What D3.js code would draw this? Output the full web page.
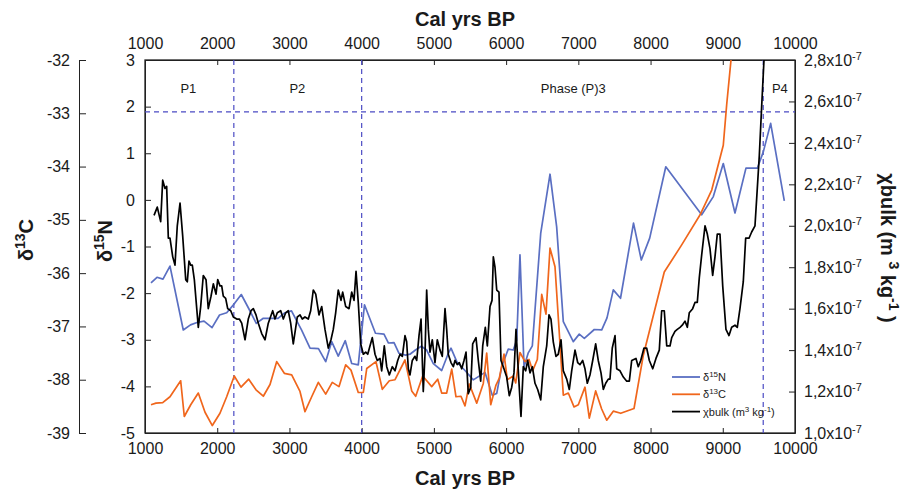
<!DOCTYPE html>
<html>
<head>
<meta charset="utf-8">
<script src="https://cdn.jsdelivr.net/npm/d3@7"></script>
<style>
body { margin: 0; background: #fff; }
text { font-family: "Liberation Sans", Arial, sans-serif; fill: #1a1a1a; }
</style>
</head>
<body>
<div id="chart"></div>
<script>
var width = 909;
var height = 490;
var plotLeft = 145, plotRight = 795, plotTop = 60, plotBottom = 433;

// ---- data ----
var yearTicks = [1000, 2000, 3000, 4000, 5000, 6000, 7000, 8000, 9000, 10000];
var n15Ticks = [-5, -4, -3, -2, -1, 0, 1, 2, 3];
var c13Ticks = [-39, -38, -37, -36, -35, -34, -33, -32];
var chiTicks = [1.0, 1.2, 1.4, 1.6, 1.8, 2.0, 2.2, 2.4, 2.6, 2.8];

var phaseBounds = [2230, 4000, 9560];
var chiThreshold = 2.55;
var phaseNames = ["P1", "P2", "Phase (P)3", "P4"];
var phaseYears = [1600, 3110, 6930, 9790];

var n15Years = [1083,1166,1249,1346,1530,1630,1720,1817,1928,2032,2131,2236,2333,2436,2541,2638,2745,2842,2938,3028,
  3167,3285,3402,3502,3585,3676,3773,3862,3953,4039,4191,4309,4371,4448,4517,4607,4669,4745,4826,4900,
  4992,5108,5200,5237,5320,5431,5546,5708,5809,5870,5939,6030,6099,6147,6192,6248,6307,6363,6479,6608,
  6700,6792,6930,7013,7083,7221,7324,7397,7484,7584,7764,7872,7988,8211,8708,8869,9007,9169,9321,9478,
  9561,9663,9852];
var n15Values = [-1.78,-1.66,-1.70,-1.42,-2.79,-2.68,-2.63,-2.60,-2.74,-2.47,-2.42,-2.23,-2.03,-2.33,-2.65,-2.54,-2.54,-2.54,-2.42,-2.38,
  -2.79,-3.18,-3.19,-3.47,-3.04,-3.35,-3.02,-3.51,-3.54,-2.25,-2.86,-2.88,-3.07,-3.06,-3.29,-3.33,-3.31,-3.22,-3.14,-3.22,
  -3.51,-3.66,-3.29,-3.18,-3.48,-3.66,-3.86,-3.70,-4.19,-4.15,-3.58,-3.20,-3.22,-3.01,-1.18,-3.58,-3.28,-3.13,-0.72,0.55,
  -0.58,-2.61,-3.04,-2.88,-2.97,-2.78,-2.79,-2.53,-1.93,-2.11,-0.50,-1.29,-0.82,0.71,-0.32,0.07,0.78,-0.28,0.68,0.68,
  1.03,1.64,-0.02];

var c13Years = [1083,1152,1245,1346,1494,1544,1633,1738,1831,1932,2038,2131,2236,2329,2436,2537,2638,2731,2824,2929,
  3031,3146,3215,3308,3400,3502,3593,3686,3779,3852,3953,4023,4070,4198,4286,4383,4462,4600,4693,4748,
  4845,4970,5053,5108,5177,5247,5306,5375,5431,5490,5593,5684,5731,5787,5860,5906,5971,6017,6100,6133,
  6192,6262,6317,6368,6432,6493,6552,6608,6677,6792,6861,6940,7000,7092,7152,7240,7323,7393,7484,7587,
  7771,7900,8190,8431,8684,8847,9007,9054,9141];
var c13Values = [-38.47,-38.44,-38.43,-38.32,-38.02,-38.69,-38.47,-38.25,-38.61,-38.86,-38.63,-38.32,-37.93,-38.14,-37.99,-38.19,-38.31,-38.09,-37.66,-37.88,
  -37.91,-38.22,-38.60,-38.32,-38.05,-38.27,-38.05,-38.13,-37.72,-37.82,-38.24,-38.24,-37.79,-37.66,-38.18,-38.02,-38.00,-37.63,-38.21,-38.31,
  -37.93,-38.13,-37.99,-38.25,-38.25,-37.80,-38.32,-38.31,-38.49,-38.08,-38.44,-38.07,-37.50,-38.47,-38.10,-37.97,-37.52,-38.00,-37.93,-38.06,
  -37.49,-37.66,-37.62,-37.83,-37.62,-36.40,-36.77,-35.53,-35.88,-38.29,-38.25,-38.51,-38.47,-38.14,-38.72,-38.21,-38.55,-38.76,-38.59,-38.63,
  -38.54,-37.54,-35.98,-35.47,-34.91,-34.44,-33.60,-32.84,-31.62];

// chi bulk in units of 1e-7 m3 kg-1
var chiYears = [1125,1170,1217,1245,1277,1300,1323,1346,1384,1415,1447,1485,1522,1564,1586,1609,1633,1655,1683,1738,
  1771,1807,1845,1876,1914,1946,1983,2007,2038,2062,2084,2117,2145,2187,2223,2270,2306,2339,2385,2430,
  2468,2500,2537,2569,2616,2662,2707,2768,2800,2832,2879,2915,2948,2984,3017,3053,3109,3146,3178,3215,
  3261,3294,3330,3364,3409,3447,3492,3538,3575,3607,3640,3676,3714,3737,3779,3825,3862,3894,3922,3953,
  3987,4023,4056,4084,4115,4147,4185,4216,4254,4277,4313,4347,4383,4424,4462,4499,4531,4563,4600,4623,
  4646,4669,4701,4738,4762,4794,4822,4853,4877,4900,4923,4946,4978,5015,5047,5085,5116,5154,5177,5199,
  5237,5269,5292,5324,5352,5385,5417,5445,5476,5510,5537,5583,5615,5648,5676,5712,5740,5777,5805,5823,
  5846,5870,5901,5929,5961,6008,6044,6077,6109,6137,6169,6192,6206,6238,6271,6299,6331,6363,6400,6437,
  6479,6515,6562,6594,6621,6653,6690,6722,6760,6792,6839,6875,6908,6954,6991,7023,7060,7092,7124,7161,
  7199,7240,7276,7314,7346,7379,7415,7438,7470,7508,7531,7577,7623,7670,7706,7739,7798,7830,7864,7909,
  7946,7983,8030,8075,8121,8154,8190,8224,8269,8293,8338,8370,8408,8439,8477,8509,8536,8583,8615,8647,
  8675,8708,8754,8786,8823,8860,8892,8924,8961,8999,9044,9086,9123,9169,9201,9238,9284,9317,9363,9400,
  9446,9469,9506,9539,9585];
var chiValues = [2.05,2.09,2.02,2.22,2.18,2.19,1.94,1.94,1.85,1.81,2.00,2.11,1.95,1.74,1.73,1.83,1.81,1.81,1.74,1.51,
  1.61,1.76,1.74,1.60,1.66,1.72,1.67,1.74,1.71,1.71,1.66,1.65,1.60,1.59,1.56,1.55,1.55,1.53,1.45,1.55,
  1.59,1.60,1.57,1.53,1.48,1.45,1.53,1.59,1.55,1.58,1.59,1.55,1.58,1.59,1.53,1.43,1.56,1.57,1.55,1.56,
  1.55,1.59,1.69,1.67,1.57,1.61,1.50,1.41,1.45,1.50,1.58,1.69,1.64,1.68,1.61,1.60,1.68,1.64,1.78,1.63,
  1.43,1.38,1.39,1.38,1.42,1.46,1.38,1.35,1.36,1.30,1.42,1.32,1.28,1.32,1.30,1.35,1.38,1.37,1.47,1.44,
  1.31,1.28,1.35,1.37,1.35,1.47,1.55,1.20,1.38,1.69,1.50,1.39,1.45,1.34,1.45,1.40,1.37,1.60,1.50,1.38,
  1.34,1.32,1.35,1.33,1.34,1.31,1.35,1.39,1.19,1.22,1.43,1.46,1.35,1.25,1.42,1.51,1.42,1.61,1.64,1.85,
  1.80,1.69,1.68,1.35,1.32,1.27,1.18,1.22,1.29,1.50,1.30,1.16,1.08,1.32,1.30,1.35,1.29,1.32,1.24,1.21,
  1.16,1.32,1.42,1.57,1.55,1.44,1.37,1.38,1.45,1.30,1.26,1.21,1.30,1.40,1.34,1.33,1.35,1.31,1.24,1.28,
  1.35,1.43,1.35,1.29,1.21,1.24,1.26,1.26,1.41,1.47,1.31,1.30,1.27,1.25,1.25,1.35,1.36,1.32,1.35,1.41,
  1.41,1.35,1.31,1.36,1.40,1.59,1.59,1.42,1.42,1.46,1.49,1.50,1.51,1.52,1.54,1.51,1.58,1.60,1.63,1.63,
  1.75,1.86,2.00,1.96,1.89,1.76,1.85,1.96,1.96,1.71,1.50,1.47,1.51,1.52,1.51,1.60,1.73,1.94,1.94,1.97,
  2.00,2.13,2.34,2.58,2.90];

var blue = "#5a6fc2", orange = "#f0661c", dash = "#4b4bc4";

// ---- scales ----
var x = d3.scaleLinear().domain([1000, 10000]).range([plotLeft, plotRight]);
var yN = d3.scaleLinear().domain([-5, 3]).range([plotBottom, plotTop]);
var yC = d3.scaleLinear().domain([-39, -32]).range([plotBottom, plotTop]);
var yChi = d3.scaleLinear().domain([1.0, 2.8]).range([plotBottom, plotTop]);

// plain hyphen for negatives, like the original figure
var plain = function(d) { return String(d); };

var svg = d3.select("#chart").append("svg")
  .attr("width", width)
  .attr("height", height);

svg.append("clipPath").attr("id", "plot")
  .append("rect")
  .attr("x", plotLeft).attr("y", plotTop)
  .attr("width", plotRight - plotLeft).attr("height", plotBottom - plotTop);

function styleAxis(g) {
  g.selectAll("text").attr("font-size", 16).attr("fill", "#1a1a1a");
  g.selectAll("line").attr("stroke", "#222");
  g.select(".domain").attr("stroke", "#222");
}

// top / bottom year axes
svg.append("g").attr("transform", "translate(0," + plotTop + ")")
  .call(d3.axisTop(x).tickValues(yearTicks).tickFormat(plain).tickSize(-5).tickSizeOuter(0).tickPadding(11))
  .call(styleAxis);
svg.append("g").attr("transform", "translate(0," + plotBottom + ")")
  .call(d3.axisBottom(x).tickValues(yearTicks).tickFormat(plain).tickSize(-5).tickSizeOuter(0).tickPadding(10))
  .call(styleAxis);

// d15N axis
svg.append("g").attr("transform", "translate(" + plotLeft + ",0)")
  .call(d3.axisLeft(yN).tickValues(n15Ticks).tickFormat(plain).tickSize(-6).tickSizeOuter(0).tickPadding(10))
  .call(styleAxis);

// d13C axis, offset to the left
svg.append("g").attr("transform", "translate(79,0)")
  .call(d3.axisLeft(yC).tickValues(c13Ticks).tickFormat(plain).tickSize(-7).tickSizeOuter(-7).tickPadding(9))
  .call(styleAxis);

// chi axis on the right
var chiAxis = svg.append("g").attr("transform", "translate(" + plotRight + ",0)")
  .call(d3.axisRight(yChi).tickValues(chiTicks).tickSize(-6).tickSizeOuter(0).tickPadding(9))
  .call(styleAxis);
chiAxis.selectAll(".tick text").each(function(d) {
  var t = d3.select(this).text(null);
  t.append("tspan").text(d3.format(".1f")(d).replace(".", ",") + "x10");
  t.append("tspan").attr("dy", -6).attr("font-size", 11).text("-7");
});

// frame
svg.append("rect")
  .attr("x", plotLeft).attr("y", plotTop)
  .attr("width", plotRight - plotLeft).attr("height", plotBottom - plotTop)
  .attr("fill", "none").attr("stroke", "#222").attr("stroke-width", 1.3);

// phase boundaries
svg.selectAll(".bound").data(phaseBounds).enter().append("line")
  .attr("x1", function(d) { return x(d); }).attr("x2", function(d) { return x(d); })
  .attr("y1", plotTop).attr("y2", plotBottom)
  .attr("stroke", dash).attr("stroke-width", 1.2).attr("stroke-dasharray", "5,4");
svg.append("line")
  .attr("x1", plotLeft).attr("x2", plotRight)
  .attr("y1", yChi(chiThreshold)).attr("y2", yChi(chiThreshold))
  .attr("stroke", dash).attr("stroke-width", 1.2).attr("stroke-dasharray", "5,4");

svg.selectAll(".phase").data(phaseNames).enter().append("text")
  .attr("x", function(d, i) { return x(phaseYears[i]); })
  .attr("y", 93)
  .attr("text-anchor", "middle")
  .attr("font-size", 13)
  .attr("fill", "#333")
  .text(function(d) { return d; });

// series
var plot = svg.append("g").attr("clip-path", "url(#plot)");

function draw(years, values, yScale, color) {
  var pts = years.map(function(yr, i) { return [yr, values[i]]; });
  plot.append("path")
    .datum(pts)
    .attr("fill", "none")
    .attr("stroke", color)
    .attr("stroke-width", 1.7)
    .attr("stroke-linejoin", "round")
    .attr("d", d3.line()
      .x(function(d) { return x(d[0]); })
      .y(function(d) { return yScale(d[1]); }));
}

draw(n15Years, n15Values, yN, blue);
draw(c13Years, c13Values, yC, orange);
draw(chiYears, chiValues, yChi, "#000");

// legend
var legend = svg.append("g").attr("transform", "translate(672,377)");
var legendRows = [
  { color: blue, parts: [["δ", 0], ["15", 1], ["N", 0]] },
  { color: orange, parts: [["δ", 0], ["13", 1], ["C", 0]] },
  { color: "#000", parts: [["χbulk (m", 0], ["3", 1], [" kg", 0], ["-1", 1], [")", 0]] }
];
legendRows.forEach(function(r, i) {
  var gy = i * 17.3;
  legend.append("line")
    .attr("x1", 0).attr("x2", 28).attr("y1", gy).attr("y2", gy)
    .attr("stroke", r.color).attr("stroke-width", 1.8);
  var t = legend.append("text").attr("x", 31).attr("y", gy + 4).attr("font-size", 11);
  var up = 0;
  r.parts.forEach(function(p) {
    var shift = p[1] ? -4 : 0;
    t.append("tspan")
      .attr("dy", shift - up)
      .attr("font-size", p[1] ? 8 : 11)
      .text(p[0]);
    up = shift;
  });
});

// axis titles
function title(txt, tx, ty, rot, parts) {
  var t = svg.append("text")
    .attr("transform", "translate(" + tx + "," + ty + ") rotate(" + rot + ")")
    .attr("text-anchor", "middle")
    .attr("font-size", 20)
    .attr("font-weight", "bold");
  if (!parts) { t.text(txt); return; }
  var up = 0;
  parts.forEach(function(p) {
    var shift = p[1] ? -8 : 0;
    t.append("tspan")
      .attr("dy", shift - up)
      .attr("font-size", p[1] ? 14 : 20)
      .text(p[0]);
    up = shift;
  });
}

title("Cal yrs BP", 465, 26, 0);
title("Cal yrs BP", 465, 485, 0);
title(null, 33, 240, -90, [["δ", 0], ["13", 1], ["C", 0]]);
title(null, 112, 241, -90, [["δ", 0], ["15", 1], ["N", 0]]);
title(null, 881, 248, 90, [["χbulk (m ", 0], ["3", 1], [" kg", 0], ["-1", 1], [" )", 0]]);
</script>
</body>
</html>
